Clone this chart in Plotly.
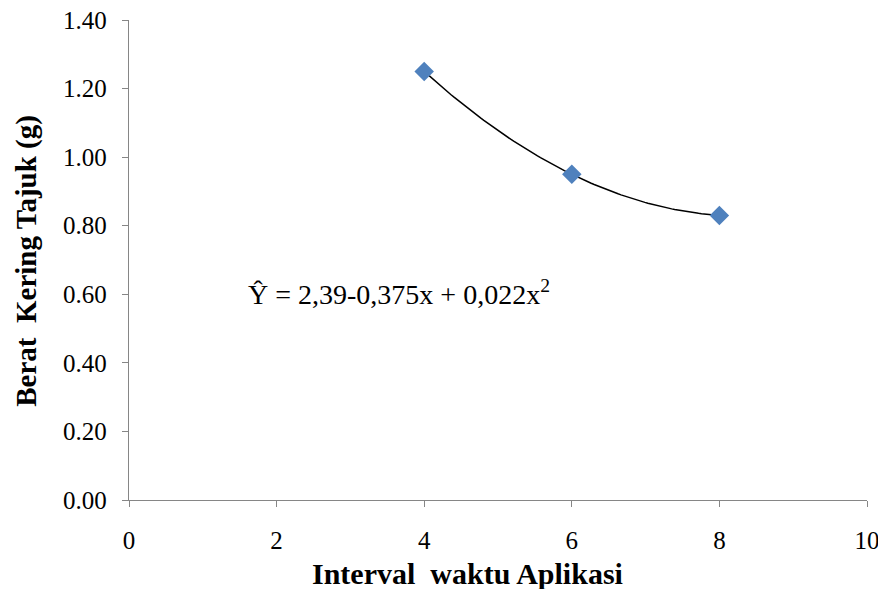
import numpy as np
import plotly.graph_objects as go

interval = [4, 6, 8]
berat = [1.25, 0.95, 0.83]
x_ticks = [0, 2, 4, 6, 8, 10]
y_ticks = [0.0, 0.2, 0.4, 0.6, 0.8, 1.0, 1.2, 1.4]
equation = "Ŷ = 2,39-0,375x + 0,022x<sup>2</sup>"
x_title = "Interval\u00a0 waktu Aplikasi"
y_title = "Berat\u00a0 Kering Tajuk (g)"

# polynomial (order 2) trendline from the data, as in the source chart
coef = np.polyfit(interval, berat, 2)
xf = np.linspace(min(interval), max(interval), 100)
yf = np.polyval(coef, xf)

FONT = "Liberation Serif"
fig = go.Figure()
fig.add_trace(go.Scatter(x=xf, y=yf, mode="lines",
                         line=dict(color="black", width=1.5), hoverinfo="skip",
                         showlegend=False))
fig.add_trace(go.Scatter(x=interval, y=berat, mode="markers",
                         marker=dict(symbol="diamond", size=15, color="#4F81BD"),
                         showlegend=False))

fig.add_annotation(x=1.58, y=0.605, xanchor="left", text=equation, showarrow=False,
                   font=dict(family=FONT, size=28, color="black"))

# axis titles placed as in the reference
fig.add_annotation(xref="paper", yref="paper", x=0.4587, y=0, yanchor="middle",
                   yshift=-73, text=f"<b>{x_title}</b>", showarrow=False,
                   font=dict(family=FONT, size=30, color="black"))
fig.add_annotation(xref="paper", yref="paper", x=-0.1385, y=0.498, xanchor="center",
                   textangle=-90, text=f"<b>{y_title}</b>", showarrow=False,
                   font=dict(family=FONT, size=29, color="black"))

axis_common = dict(showgrid=False, zeroline=False, showline=True,
                   linecolor="#868686", linewidth=1.3, ticks="outside",
                   tickcolor="#868686", ticklen=6, tickwidth=1.3, automargin=False,
                   ticklabeloverflow="allow",
                   tickfont=dict(family=FONT, size=25, color="black"))

fig.update_xaxes(range=[0, 10], tickvals=x_ticks, ticktext=[str(v) for v in x_ticks],
                 ticklabelstandoff=12, **axis_common)
fig.update_yaxes(range=[0, 1.4], tickvals=y_ticks,
                 ticktext=[f"{v:.2f}" for v in y_ticks],
                 ticklabelstandoff=10, **axis_common)

# page body has an 8px margin, so the figure is offset by 8px in the window
fig.update_layout(width=878, height=581, plot_bgcolor="white", paper_bgcolor="white",
                  margin=dict(l=121, r=19, t=12, b=89))
fig.write_html("out.html")
